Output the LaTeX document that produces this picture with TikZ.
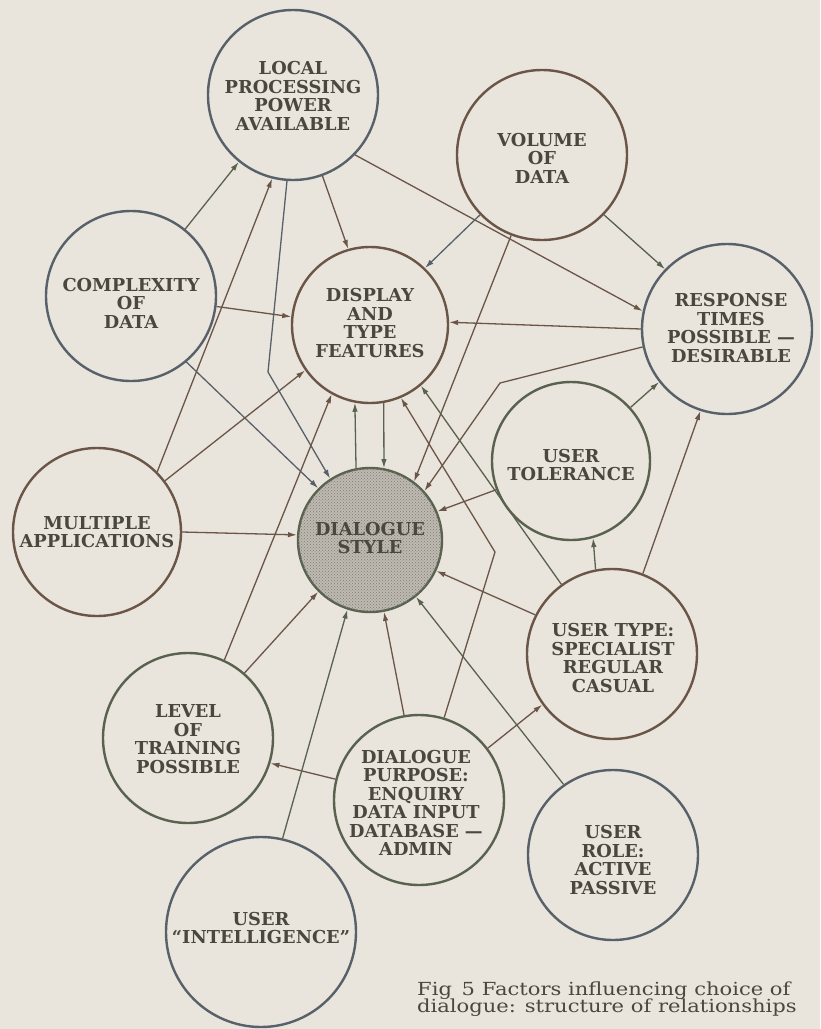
\documentclass[tikz,border=0pt]{standalone}
\usepackage{fontspec}
\setmainfont{DejaVu Serif}
\newfontfamily\capfont[FakeStretch=1.17]{DejaVu Serif}
\usetikzlibrary{arrows.meta,patterns}
\definecolor{bg}{HTML}{E9E5DC}
\definecolor{brn}{HTML}{6B5547}
\definecolor{olv}{HTML}{59624E}
\definecolor{slt}{HTML}{58606A}
\definecolor{ink}{HTML}{4A473D}
\definecolor{dsfill}{HTML}{BEBAB2}
\definecolor{dsdot}{HTML}{7E7B73}
\begin{document}
\begin{tikzpicture}[x=1pt,y=-1pt,
  bub/.style={circle,draw=#1,line width=2.4pt,inner sep=0pt,fill=bg},
  lbl/.style={inner sep=0pt,align=center,text=ink,font=\bfseries\fontsize{17.8}{18.5}\selectfont},
  captxt/.style={inner sep=0pt,anchor=base west,text=ink,font=\capfont\fontsize{18}{17}\selectfont},
  arr/.style={-{Latex[length=9pt,width=5.5pt]},line width=1.3pt,draw=#1}
]
\fill[bg] (0,0) rectangle (820,1029);
\useasboundingbox (0,0) rectangle (820,1029);

% circles
\node[bub=slt,minimum size=170pt] (L) at (293,95) {};
\node[bub=brn,minimum size=170pt] (V) at (542,155) {};
\node[bub=slt,minimum size=170pt] (C) at (131,296) {};
\node[bub=brn,minimum size=156pt] (D) at (370,325) {};
\node[bub=slt,minimum size=170pt] (R) at (727,329) {};
\node[bub=olv,minimum size=158pt] (T) at (571,461) {};
\node[bub=brn,minimum size=168pt] (M) at (97,532) {};
\node[bub=olv,minimum size=144pt,fill=dsfill,postaction={pattern=crosshatch dots,pattern color=dsdot}] (S) at (370,540) {};
\node[bub=brn,minimum size=170pt] (Y) at (612,654) {};
\node[bub=olv,minimum size=170pt] (LT) at (188,738) {};
\node[bub=olv,minimum size=170pt] (P) at (419,800) {};
\node[bub=slt,minimum size=170pt] (UR) at (613,855) {};
\node[bub=slt,minimum size=190pt] (UI) at (261,932) {};

% labels
\node[lbl] (Ltx) at (293,96) {LOCAL\\PROCESSING\\POWER\\AVAILABLE};
\node[lbl] (Vtx) at (542,158) {VOLUME\\OF\\DATA};
\node[lbl] (Ctx) at (131,303) {COMPLEXITY\\OF\\DATA};
\node[lbl] (Dtx) at (370,323) {DISPLAY\\AND\\TYPE\\FEATURES};
\node[lbl] (Rtx) at (731,328) {RESPONSE\\TIMES\\POSSIBLE ---\\DESIRABLE};
\node[lbl] (Ttx) at (571,465) {USER\\TOLERANCE};
\node[lbl] (Mtx) at (97,532) {MULTIPLE\\APPLICATIONS};
\node[lbl] (Stx) at (370,538) {DIALOGUE\\STYLE};
\node[lbl] (Ytx) at (613,658) {USER TYPE:\\SPECIALIST\\REGULAR\\CASUAL};
\node[lbl] (LTtx) at (188,739) {LEVEL\\OF\\TRAINING\\POSSIBLE};
\node[lbl] (Ptx) at (416,803) {DIALOGUE\\PURPOSE:\\ENQUIRY\\DATA INPUT\\DATABASE ---\\ADMIN};
\node[lbl] (URtx) at (613,860) {USER\\ROLE:\\ACTIVE\\PASSIVE};
\node[lbl] (UItx) at (261,928) {USER\\``INTELLIGENCE''};

% caption
\node[captxt] (cap1) at (417,995.5) {Fig\, 5 Factors influencing choice of};
\node[captxt] (cap2) at (417,1012) {dialogue: structure of relationships};

% bend points
\coordinate (b1) at (268,372);
\coordinate (b2) at (500,383);
\coordinate (b3) at (495,552);

% connectors
\draw[arr=olv] (C.51.9) -- (L.231);
\draw[arr=brn] (M.45.9) -- (L.256.8);
\draw[arr=brn] (L.-70.5) -- (D.106);
\draw[arr=brn] (L.-44) -- (R.168.7);
\draw[arr=slt] (L.-94) -- (b1) -- (S.123.7);
\draw[arr=slt] (V.-136.8) -- (D.46.5);
\draw[arr=brn] (V.-111.8) -- (S.53.1);
\draw[arr=olv] (V.-44.5) -- (R.136.8);
\draw[arr=brn] (C.-7.3) -- (D.174.3);
\draw[arr=slt] (C.-50.7) -- (S.135);
\draw[arr=brn] (R.180) -- (D.2);
\draw[arr=brn] (R.192.6) -- (b2) -- (S.42.4);
\draw[arr=olv] (T.42.5) -- (R.218.4);
\draw[arr=brn] (Y.69.7) -- (R.252.2);
\draw[arr=brn] (T.201) -- (S.23.8);
\draw[arr=olv] (Y.101.4) -- (T.-74.9);
\draw[arr=olv] (S.101.2) -- (D.259.7);
\draw[arr=olv] (D.-80.4) -- (S.79.6);
\draw[arr=brn] (LT.65.9) -- (D.241);
\draw[arr=brn] (LT.49.2) -- (S.225);
\draw[arr=brn] (M.37.4) -- (D.215.1);
\draw[arr=brn] (M.0) -- (S.176.1);
\draw[arr=brn] (P.73.9) -- (b3) -- (D.-67.1);
\draw[arr=olv] (Y.126.2) -- (D.-50);
\draw[arr=brn] (Y.153.1) -- (S.-25.2);
\draw[arr=olv] (UR.125.5) -- (S.-51);
\draw[arr=brn] (P.37.4) -- (Y.216.5);
\draw[arr=brn] (P.166.3) -- (LT.-17);
\draw[arr=brn] (P.100.7) -- (S.-79.5);
\draw[arr=olv] (UI.77.4) -- (S.-108.2);
\end{tikzpicture}
\end{document}
